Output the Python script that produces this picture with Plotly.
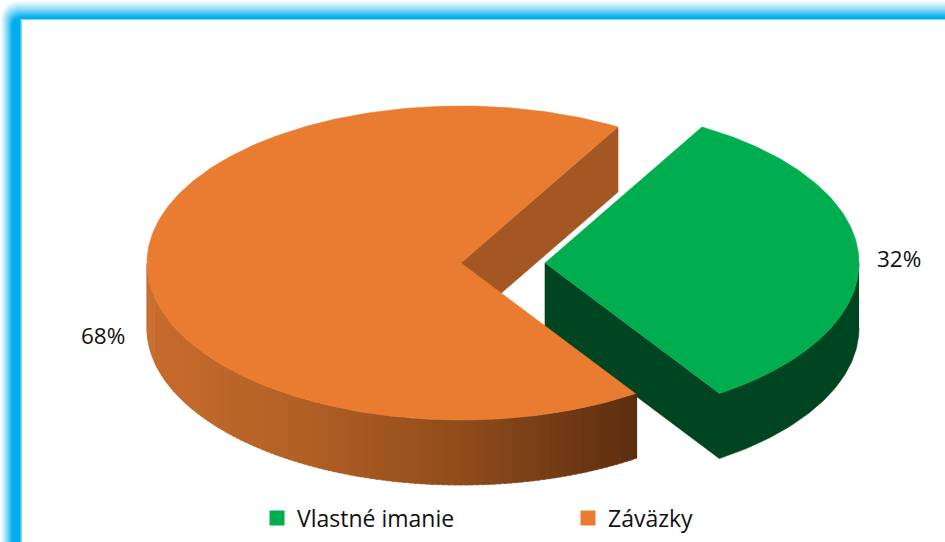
import numpy as np
import plotly.graph_objects as go

# Data
categories = ["Vlastné imanie", "Záväzky"]
values = [32.3, 67.7]
top_colors = ["#00AE4F", "#EA7C31"]
wall_colors = ["#004521", "#A45722"]

W, H = 945, 542
RX, RY, DEPTH = 314, 157, 65
CY = 263
CX_ORANGE, CX_GREEN = 461, 545
START = 30.0


def ell(cx, th):
    t = np.radians(th)
    return cx + RX * np.sin(t), CY - RY * np.cos(t)


def lerp_stops(x, stops):
    xs = [s[0] for s in stops]
    r = np.interp(x, xs, [s[1][0] for s in stops])
    g = np.interp(x, xs, [s[1][1] for s in stops])
    b = np.interp(x, xs, [s[1][2] for s in stops])
    return f"rgb({r:.0f},{g:.0f},{b:.0f})"


fig = go.Figure()


def poly(xs, ys, color):
    fig.add_trace(go.Scatter(x=list(xs), y=list(ys), mode="lines", fill="toself",
                             fillcolor=color, line=dict(color=color, width=0.6),
                             hoverinfo="skip", showlegend=False))


def side(cx, a0, a1, stops, n):
    edges = np.linspace(a0, a1, n + 1)
    for a, b in zip(edges[:-1], edges[1:]):
        th = np.linspace(a - 0.4, b, 5)
        x, y = ell(cx, th)
        xs = np.concatenate([x, x[::-1]])
        ys = np.concatenate([y, y[::-1] + DEPTH])
        poly(xs, ys, lerp_stops(float(x.mean()), stops))


sweep_green = values[0] / sum(values) * 360
end_green = START + sweep_green

# Green slice (pulled out): wall and rim as one dark shape, then the top
th = np.linspace(90, end_green, 80)
x, y = ell(CX_GREEN, th)
poly(np.r_[x, CX_GREEN, CX_GREEN, x[::-1]],
     np.r_[y, CY, CY + DEPTH, y[::-1] + DEPTH], wall_colors[0])
th = np.linspace(START, end_green, 120)
x, y = ell(CX_GREEN, th)
poly(np.r_[CX_GREEN, x], np.r_[CY, y], top_colors[0])

# Orange slice
sx, sy = ell(CX_ORANGE, START)
poly([CX_ORANGE, sx, sx, CX_ORANGE], [CY, sy, sy + DEPTH, CY + DEPTH], wall_colors[1])
side(CX_ORANGE, end_green, 270,
     [(147, (200, 108, 45)), (300, (178, 96, 37)), (450, (146, 77, 28)), (636, (92, 46, 16))], 120)
th = np.linspace(end_green, START + 360, 300)
x, y = ell(CX_ORANGE, th)
poly(np.r_[CX_ORANGE, x], np.r_[CY, y], top_colors[1])

# Legend entries
for name, color in zip(categories, top_colors):
    fig.add_trace(go.Scatter(x=[None], y=[None], mode="markers", name=name,
                             marker=dict(symbol="square", size=15, color=color)))

# Percent labels
labels = [f"{round(v / sum(values) * 100)}%" for v in values]
annots = [
    dict(x=899, y=258, text=labels[0]),
    dict(x=103, y=335, text=labels[1]),
]
for a in annots:
    a.update(xref="x", yref="y", showarrow=False,
             font=dict(family="Open Sans", size=22.5, color="#111111"))

# Blue glowing frame: darker nested outlines, wider at the top than at the left
shapes = []
blue = np.array([0, 174, 239])
STEPS = 18
for i in range(STEPS + 1):
    t = i / STEPS
    px, py = 12 * t, 17 * t
    c = (255 + (blue - 255) * t ** 1.2).astype(int)
    r = 20 - 10 * t
    p = (f"M {px:.2f},{H + 50} L {px:.2f},{py + r:.2f} Q {px:.2f},{py:.2f} {px + r:.2f},{py:.2f} "
         f"L {W + 50},{py:.2f} L {W + 50},{H + 50} Z")
    shapes.append(dict(type="path", path=p, fillcolor=f"rgb({c[0]},{c[1]},{c[2]})",
                       line=dict(width=0), layer="below"))
shapes.append(dict(type="rect", x0=20.5, y0=19, x1=W + 50, y1=H + 50,
                   fillcolor="#7FD8FA", line=dict(width=0), layer="below"))
shapes.append(dict(type="rect", x0=22, y0=20, x1=W + 50, y1=H + 50,
                   fillcolor="white", line=dict(width=0), layer="below"))

fig.update_layout(
    width=W, height=H, autosize=False,
    margin=dict(l=0, r=0, t=0, b=0),
    paper_bgcolor="white", plot_bgcolor="white",
    xaxis=dict(range=[0, W], visible=False, fixedrange=True),
    yaxis=dict(range=[H, 0], visible=False, fixedrange=True),
    shapes=shapes, annotations=annots,
    legend=dict(orientation="h", x=257 / W, y=1 - 518 / H, xanchor="left", yanchor="middle",
                entrywidth=266, entrywidthmode="pixels", itemclick=False, itemdoubleclick=False,
                bgcolor="rgba(0,0,0,0)",
                font=dict(family="Open Sans", size=23, color="#111111")),
)
fig.write_html("out.html", post_script="document.body.style.margin='0';document.body.style.overflow='hidden';",
               config=dict(displayModeBar=False))
